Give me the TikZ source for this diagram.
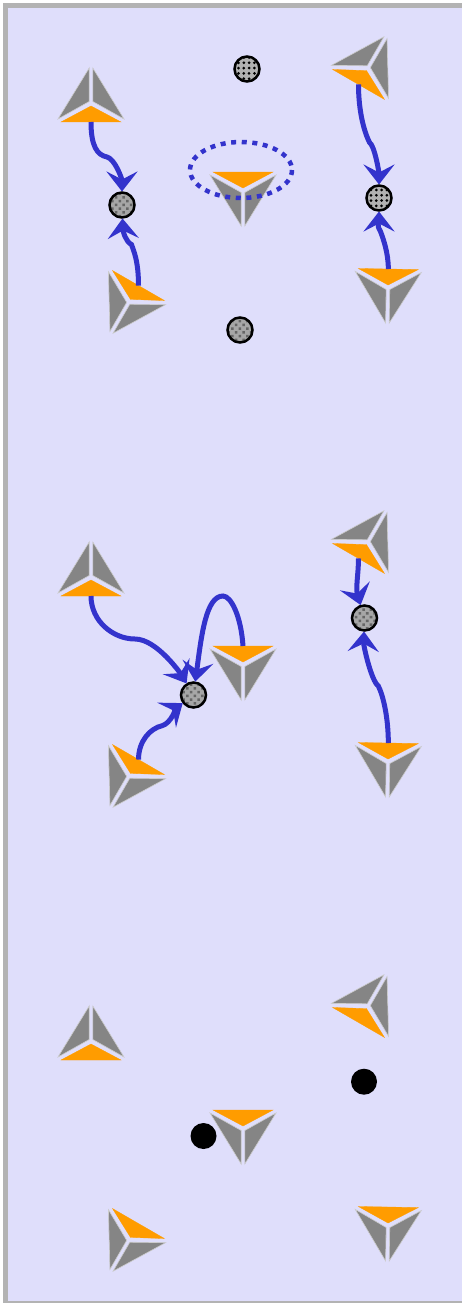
\documentclass[tikz,border=0pt]{standalone}
\usetikzlibrary{arrows.meta,patterns.meta}
\definecolor{paneback}{HTML}{DFDEFB}
\definecolor{paneedge}{HTML}{B3B3B3}
\definecolor{flowblue}{HTML}{3333CC}
\definecolor{tetraorange}{HTML}{FF9C00}
\definecolor{tetragray}{HTML}{858585}
\tikzset{
  flow/.style={draw=flowblue,line width=5pt,-{Stealth[length=20pt,width=31pt,inset=8pt,flowblue]}},
  ring/.style={draw=flowblue,line width=4.5pt,dash pattern=on 5pt off 5.6pt},
  ballbase/.style={circle,draw=black,line width=2.5pt,minimum size=25pt,inner sep=0pt,outer sep=1pt},
  ballsquare/.style={ballbase,preaction={fill=gray!60},pattern={Dots[radius=1.5pt,distance=5.3pt]},pattern color=black},
  ballround/.style={ballbase,preaction={fill=gray!70},pattern={Dots[radius=1.8pt,distance=5.3pt,angle=45]},pattern color=black!60},
  balldark/.style={circle,fill=black,minimum size=26pt,inner sep=0pt}
}
\begin{document}
\begin{tikzpicture}[x=1pt,y=-1pt]
  \useasboundingbox (0,0) rectangle (462,1303);
  \fill[paneback] (5,5) rectangle (462,1303);
  \draw[paneedge,line width=5pt] (470,5.5) -- (5.5,5.5) -- (5.5,1303.5) -- (470,1303.5);

  \foreach \p/\dy in {1/0,2/474,3/938}
    \foreach \nm/\px/\py/\ang in {a/91/103/0,b/129/302/150,c/243/191/180,d/368/68/-30,e/388/288/179}
    {
      \begin{scope}[shift={(\px,\py+\dy)},rotate=\ang]
        \coordinate (\nm\p) at (0,19);
        \filldraw[fill=tetraorange,draw=tetraorange,line width=.3pt] (-30,19) -- (30,19) -- (0,3) --cycle;
        \filldraw[fill=tetragray,draw=gray!40,line width=.6pt] (-1.8,-35) -- (-1.8,-1.5) -- (-33,16) --cycle;
        \filldraw[fill=tetragray,draw=gray!40,line width=.6pt] (1.8,-35) -- (1.8,-1.5) -- (33,16) --cycle;
      \end{scope}
    }

  \draw[ring] (241,170) ellipse (51 and 28);

  % first panel
  \node[ballround] (ballab) at (122,205) {};
  \node[ballsquare] (balltop) at (247,69) {};
  \node[ballsquare] (ballde) at (379,198) {};
  \node[ballround] (ballc) at (240,330) {};
  \draw[flow] (a1) .. controls +(0,24) and +(-10,-2) .. ++(16,35) .. controls +(8,2) and +(0,-26) .. (ballab);
  \draw[flow] (b1) .. controls +(0,-25) and +(2,6) .. ++(-7,-41) .. controls +(-6,-3) and +(1,26) .. (ballab);
  \draw[flow] (d1) .. controls +(0,28) and +(-5,-10) .. ++(11,58) .. controls +(5,3) and +(0,-26) .. (ballde);
  \draw[flow] (e1) .. controls +(0,-16) and +(3,8) .. ++(-8,-38) .. controls +(-4,-6) and +(0,24) .. (ballde);

  % second panel
  \node[ballround] (ballmix) at (193.5,695) {};
  \node[ballround] (ballright) at (364.5,618) {};
  \draw[flow] (a2) .. controls +(0,25) and +(-22,0) .. ++(44,43) .. controls +(22,0) and +(-12,-20) .. (ballmix);
  \draw[flow] (b2) .. controls +(0,-18) and +(-13,3) .. ++(24,-34) .. controls +(8,-2) and +(-16,12) .. (ballmix);
  \draw[flow] (c2) .. controls +(-2,-30) and +(8,0) .. ++(-20,-50) .. controls +(-17,0) and +(8,-60) .. (ballmix);
  \draw[flow] (d2) .. controls +(0,15) and +(-9,-30) .. (ballright);
  \draw[flow] (e2) .. controls +(0,-25) and +(5,10) .. ++(-10,-57) .. controls +(-7,-5) and +(-1,28) .. (ballright);

  % third panel
  \node[balldark] (dotleft) at (203.5,1136) {};
  \node[balldark] (dotright) at (364,1081.7) {};
\end{tikzpicture}
\end{document}
